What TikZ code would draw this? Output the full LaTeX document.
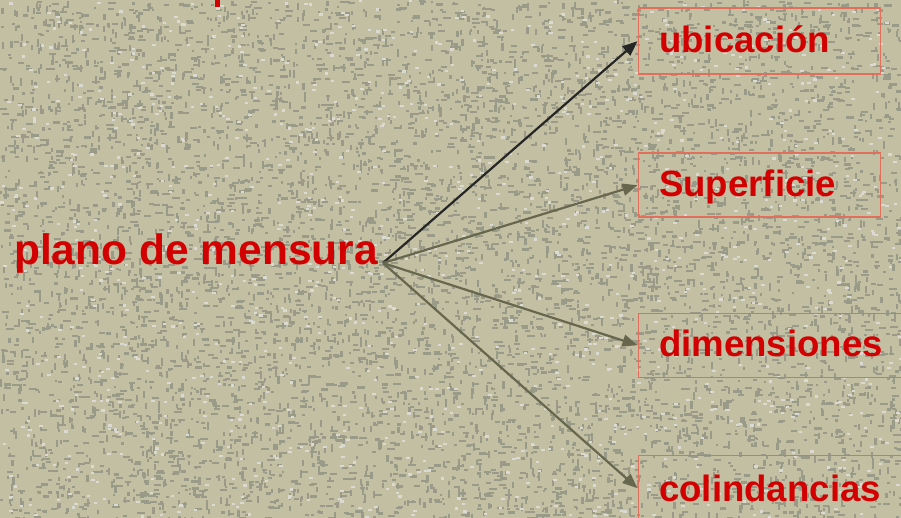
\documentclass[tikz,border=0pt]{standalone}
\usepackage{fontspec}
\setmainfont{Liberation Sans}
\usetikzlibrary{arrows.meta}
\definecolor{bg}{HTML}{C2BFA2}
\definecolor{speck}{HTML}{9A9A88}
\definecolor{lightspeck}{HTML}{DADAD2}
\definecolor{txtred}{HTML}{D20000}
\definecolor{boxline}{HTML}{E0705C}
\definecolor{darkarrow}{HTML}{262626}
\definecolor{olivearrow}{HTML}{67674E}
\begin{document}
\begin{tikzpicture}[x=1pt,y=-1pt,
  itemtext/.style={font=\bfseries\fontsize{36.6}{40}\selectfont, text=txtred, inner sep=0pt, anchor=base west},
  maintext/.style={font=\bfseries\fontsize{42.5}{46}\selectfont, text=txtred, inner sep=0pt, anchor=base west},
  itembox/.style={draw=boxline, line width=1.4pt, anchor=north west, inner sep=0pt, minimum width=242pt, minimum height=64pt},
  wideitembox/.style={itembox, minimum width=275pt},
  conn/.style={line width=2.2pt, -{Triangle[length=15pt,width=12pt]}}]
\useasboundingbox (0,0) rectangle (901,518);
\clip (0,0) rectangle (901,518);
\fill[bg] (0,0) rectangle (901,518);
% granite-like texture
\pgfmathsetseed{7}
\foreach \i in {1,...,4200}{
  \pgfmathsetmacro\xx{901*rnd}
  \pgfmathsetmacro\yy{518*rnd}
  \pgfmathsetmacro\ww{2+6*rnd}
  \fill[speck] (\xx,\yy) rectangle ++(\ww,2.2);
}
\foreach \i in {1,...,3000}{
  \pgfmathsetmacro\xx{901*rnd}
  \pgfmathsetmacro\yy{518*rnd}
  \pgfmathsetmacro\hh{2+6*rnd}
  \fill[speck] (\xx,\yy) rectangle ++(2.2,\hh);
}
\foreach \i in {1,...,1200}{
  \pgfmathsetmacro\xx{901*rnd}
  \pgfmathsetmacro\yy{518*rnd}
  \fill[lightspeck] (\xx,\yy) rectangle ++(3.5,2.2);
}
% cut-off fragment at the top
\fill[txtred] (215,0) rectangle (220,7);
% boxes
\node[itembox, minimum height=66pt] (ub) at (637.5,7.5) {};
\node[itembox] (sup) at (637.5,152.5) {};
\node[wideitembox] (dim) at (637.5,312.5) {};
\node[wideitembox, minimum height=66pt] (col) at (637.5,454.5) {};
% texts
\node[itemtext] (tub) at (659,53) {ubicación};
\node[itemtext] (tsup) at (659,197) {Superficie};
\node[itemtext] (tdim) at (659,356) {dimensiones};
\node[itemtext] (tcol) at (659,501) {colindancias};
\node[maintext] (plano) at (14,265) {plano de mensura};
\coordinate (hub) at (383,263);
% connectors
\draw[conn, darkarrow] (hub) -- (ub.west);
\draw[conn, olivearrow] (hub) -- (sup.west);
\draw[conn, olivearrow] (hub) -- (dim.west);
\draw[conn, olivearrow] (hub) -- (col.west);
\end{tikzpicture}
\end{document}
